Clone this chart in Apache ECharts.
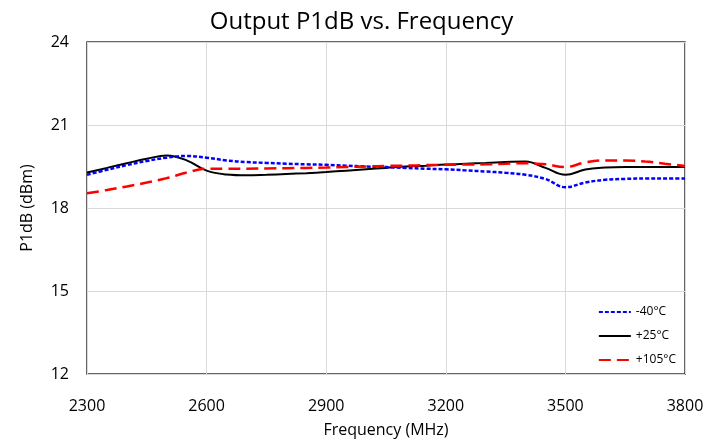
<!DOCTYPE html>
<html>
<head>
<meta charset="utf-8">
<script src="https://cdn.jsdelivr.net/npm/echarts@6/dist/echarts.min.js"></script>
<style>
  html, body { margin: 0; padding: 0; background: #fff; }
  #chart { width: 723px; height: 443px; }
</style>
</head>
<body>
<div id="chart"></div>
<script>
const freq = [2300, 2350, 2400, 2450, 2500, 2550, 2600, 2650, 2700, 2750, 2800,
  2850, 2900, 2950, 3000, 3050, 3100, 3150, 3200, 3250, 3300, 3350, 3400,
  3450, 3500, 3550, 3600, 3650, 3700, 3750, 3800];

const minus40 = [19.2, 19.38, 19.55, 19.7, 19.82, 19.88, 19.82, 19.72, 19.66, 19.63, 19.6,
  19.58, 19.56, 19.53, 19.5, 19.48, 19.45, 19.42, 19.4, 19.36, 19.32, 19.27, 19.2,
  19.05, 18.75, 18.92, 19.02, 19.05, 19.07, 19.07, 19.07];

const plus25 = [19.28, 19.45, 19.62, 19.78, 19.9, 19.72, 19.35, 19.21, 19.18, 19.2, 19.23,
  19.26, 19.3, 19.35, 19.4, 19.45, 19.5, 19.53, 19.57, 19.6, 19.63, 19.66, 19.68,
  19.45, 19.2, 19.39, 19.46, 19.48, 19.48, 19.48, 19.48];

const plus105 = [18.53, 18.65, 18.78, 18.92, 19.08, 19.28, 19.42, 19.42, 19.42, 19.43, 19.44,
  19.45, 19.46, 19.48, 19.5, 19.52, 19.53, 19.55, 19.56, 19.57, 19.58, 19.6, 19.62,
  19.58, 19.48, 19.65, 19.72, 19.72, 19.68, 19.6, 19.52];

const seriesNames = ["-40°C", "+25°C", "+105°C"];

const font = "'Open Sans', sans-serif";
const chart = echarts.init(document.getElementById("chart"));

const pairs = (vals) => freq.map((f, i) => [f, vals[i]]);

chart.setOption({
  animation: false,
  title: {
    text: "Output P1dB vs. Frequency",
    left: "center",
    top: 5,
    textStyle: { fontFamily: font, fontSize: 24, fontWeight: "normal", color: "#000" },
  },
  grid: {
    left: 87, right: 38, top: 42, bottom: 63,
    show: true, borderColor: "#333", borderWidth: 1.5,
  },
  legend: {
    orient: "vertical",
    right: 42,
    bottom: 72,
    itemGap: 12,
    itemWidth: 32,
    itemHeight: 10,
    data: seriesNames,
    itemStyle: { opacity: 0 },
    textStyle: { fontFamily: font, fontSize: 12, color: "#000" },
  },
  xAxis: {
    type: "value",
    min: 2300, max: 3800, interval: 300,
    name: "Frequency (MHz)",
    nameLocation: "middle",
    nameGap: 48,
    nameTextStyle: { fontFamily: font, fontSize: 16, color: "#000" },
    axisLine: { show: false },
    axisTick: { show: false },
    axisLabel: { fontFamily: font, fontSize: 16, color: "#000", margin: 24, formatter: (v) => String(v) },
    splitLine: { lineStyle: { color: "#d9d9d9", width: 1 } },
  },
  yAxis: {
    type: "value",
    min: 12, max: 24, interval: 3,
    name: "P1dB (dBm)",
    nameLocation: "middle",
    nameGap: 52,
    nameTextStyle: { fontFamily: font, fontSize: 16, color: "#000" },
    axisLine: { show: false },
    axisTick: { show: false },
    axisLabel: { fontFamily: font, fontSize: 16, color: "#000", margin: 18 },
    splitLine: { lineStyle: { color: "#d9d9d9", width: 1 } },
  },
  series: [
    {
      name: seriesNames[0],
      type: "line",
      data: pairs(minus40),
      smooth: 0.4,
      symbol: "none",
      lineStyle: { color: "#0000ff", width: 2.5, type: [4, 2] },
      itemStyle: { color: "#0000ff" },
      z: 3,
    },
    {
      name: seriesNames[1],
      type: "line",
      data: pairs(plus25),
      smooth: 0.4,
      symbol: "none",
      lineStyle: { color: "#000", width: 2 },
      itemStyle: { color: "#000" },
      z: 2,
    },
    {
      name: seriesNames[2],
      type: "line",
      data: pairs(plus105),
      smooth: 0.4,
      symbol: "none",
      lineStyle: { color: "#ff0000", width: 2.5, type: [12, 6] },
      itemStyle: { color: "#ff0000" },
      z: 4,
    },
  ],
});
</script>
</body>
</html>
